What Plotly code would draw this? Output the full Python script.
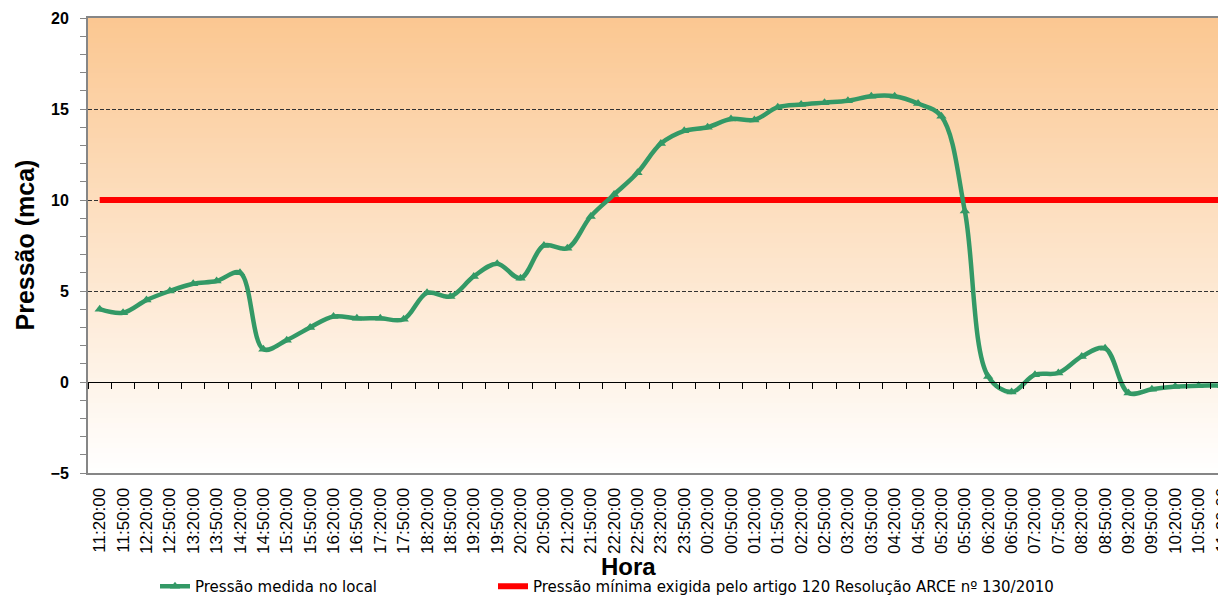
import plotly.graph_objects as go

# ---------------- data ----------------
time_labels = [
    "11:20:00", "11:50:00", "12:20:00", "12:50:00", "13:20:00", "13:50:00",
    "14:20:00", "14:50:00", "15:20:00", "15:50:00", "16:20:00", "16:50:00",
    "17:20:00", "17:50:00", "18:20:00", "18:50:00", "19:20:00", "19:50:00",
    "20:20:00", "20:50:00", "21:20:00", "21:50:00", "22:20:00", "22:50:00",
    "23:20:00", "23:50:00", "00:20:00", "00:50:00", "01:20:00", "01:50:00",
    "02:20:00", "02:50:00", "03:20:00", "03:50:00", "04:20:00", "04:50:00",
    "05:20:00", "05:50:00", "06:20:00", "06:50:00", "07:20:00", "07:50:00",
    "08:20:00", "08:50:00", "09:20:00", "09:50:00", "10:20:00", "10:50:00",
    "11:20:00",
]
pressao_medida = [
    4.0, 3.8, 4.5, 5.0, 5.4, 5.55,
    6.0, 1.8, 2.3, 3.0, 3.6, 3.5,
    3.5, 3.45, 4.9, 4.7, 5.8, 6.5,
    5.7, 7.5, 7.35, 9.1, 10.3, 11.5,
    13.1, 13.8, 14.0, 14.45, 14.4, 15.1,
    15.25, 15.35, 15.45, 15.7, 15.7, 15.3,
    14.6, 9.4, 0.3, -0.55, 0.4, 0.5,
    1.4, 1.85, -0.6, -0.4, -0.25, -0.2,
    -0.2,
]
pressao_minima = [10.0] * len(time_labels)

serie_medida = "Pressão medida no local"
serie_minima = "Pressão mínima exigida pelo artigo 120 Resolução ARCE nº 130/2010"
y_title = "Pressão (mca)"
x_title = "Hora"

idx = list(range(len(time_labels)))
x_range = [-0.5, 48.17]

# figure geometry (page body adds an 8px offset)
W, H = 1218, 590
ML, MT, MB, MR = 80, 10, 125, 0
PW = W - ML - MR
PH = H - MT - MB


def px_x(fig_x):
    return (fig_x - ML) / PW


def px_y(fig_y):
    return (PH - (fig_y - MT)) / PH


fig = go.Figure()

fig.add_trace(go.Scatter(
    x=idx, y=pressao_minima, name=serie_minima, mode="lines",
    line=dict(color="#FF0000", width=6), legend="legend2",
))
fig.add_trace(go.Scatter(
    x=idx, y=pressao_medida, name=serie_medida, mode="lines+markers",
    line=dict(color="#339966", width=4.5, shape="spline", smoothing=1),
    marker=dict(symbol="triangle-up", size=9, color="#339966"),
    legend="legend",
))
fig.add_trace(go.Scatter(
    x=idx, y=[None] * len(idx), xaxis="x2", mode="lines",
    showlegend=False, hoverinfo="skip",
))

# gradient background (orange at top -> white at bottom)
n_bands = 91
top = (251, 199, 145)
bot = (255, 255, 255)
shapes = []
for i in range(n_bands):
    f = (i + 0.5) / n_bands
    c = tuple(round(top[k] + (bot[k] - top[k]) * f) for k in range(3))
    shapes.append(dict(
        type="rect", xref="paper", yref="paper",
        x0=0, x1=1, y0=1 - (i + 1) / n_bands, y1=1 - i / n_bands,
        fillcolor="rgb(%d,%d,%d)" % c, line=dict(width=0), layer="below",
    ))

legend_font = dict(family="DejaVu Sans", size=15, color="#000000")

fig.update_layout(
    width=W, height=H,
    margin=dict(l=ML, r=MR, t=MT, b=MB, autoexpand=False),
    paper_bgcolor="white",
    plot_bgcolor="rgba(0,0,0,0)",
    shapes=shapes,
    showlegend=True,
    legend=dict(
        orientation="h", x=px_x(147), xanchor="left",
        y=px_y(595), yanchor="bottom",
        font=legend_font, bgcolor="rgba(0,0,0,0)",
    ),
    legend2=dict(
        orientation="h", x=px_x(485), xanchor="left",
        y=px_y(595), yanchor="bottom",
        font=legend_font, bgcolor="rgba(0,0,0,0)",
    ),
    xaxis=dict(
        range=x_range, tickmode="array", tickvals=idx, ticktext=time_labels,
        tickangle=-90, ticks="", showgrid=False, zeroline=False,
        showline=True, linecolor="#868686", linewidth=2, mirror=True,
        tickfont=dict(family="Liberation Sans", size=17, color="#000000"),
        ticklabelstandoff=6, ticklabeloverflow="allow",
    ),
    xaxis2=dict(
        overlaying="x", anchor="free", position=0.2, range=x_range,
        tickmode="array", tickvals=[i - 0.5 for i in range(len(idx) + 1)],
        showticklabels=False, ticks="outside", ticklen=6, tickcolor="#000000",
        tickwidth=1, showline=True, linecolor="#000000", linewidth=1,
        showgrid=False, zeroline=False,
    ),
    yaxis=dict(
        range=[-5, 20], dtick=5, tick0=0,
        showgrid=True, gridcolor="#333333", gridwidth=1, griddash="4px,2px",
        zeroline=False,
        showline=True, linecolor="#868686", linewidth=2,
        ticks="outside", ticklen=6, tickcolor="#868686",
        minor=dict(dtick=1, ticks="outside", ticklen=6, tickcolor="#868686", showgrid=False),
        tickfont=dict(family="Liberation Sans", size=16, color="#000000", weight="bold"),
        ticklabelstandoff=8,
    ),
    annotations=[
        dict(text="<b>%s</b>" % y_title, xref="paper", yref="paper",
             x=px_x(16), y=0.5, xanchor="center", yanchor="middle",
             textangle=-90, showarrow=False,
             font=dict(family="Liberation Sans", size=25, color="#000000")),
        dict(text="<b>%s</b>" % x_title, xref="paper", yref="paper",
             x=px_x(620), y=px_y(558), xanchor="center", yanchor="middle",
             showarrow=False,
             font=dict(family="Liberation Sans", size=24, color="#000000")),
    ],
)

fig.write_html("out.html")
